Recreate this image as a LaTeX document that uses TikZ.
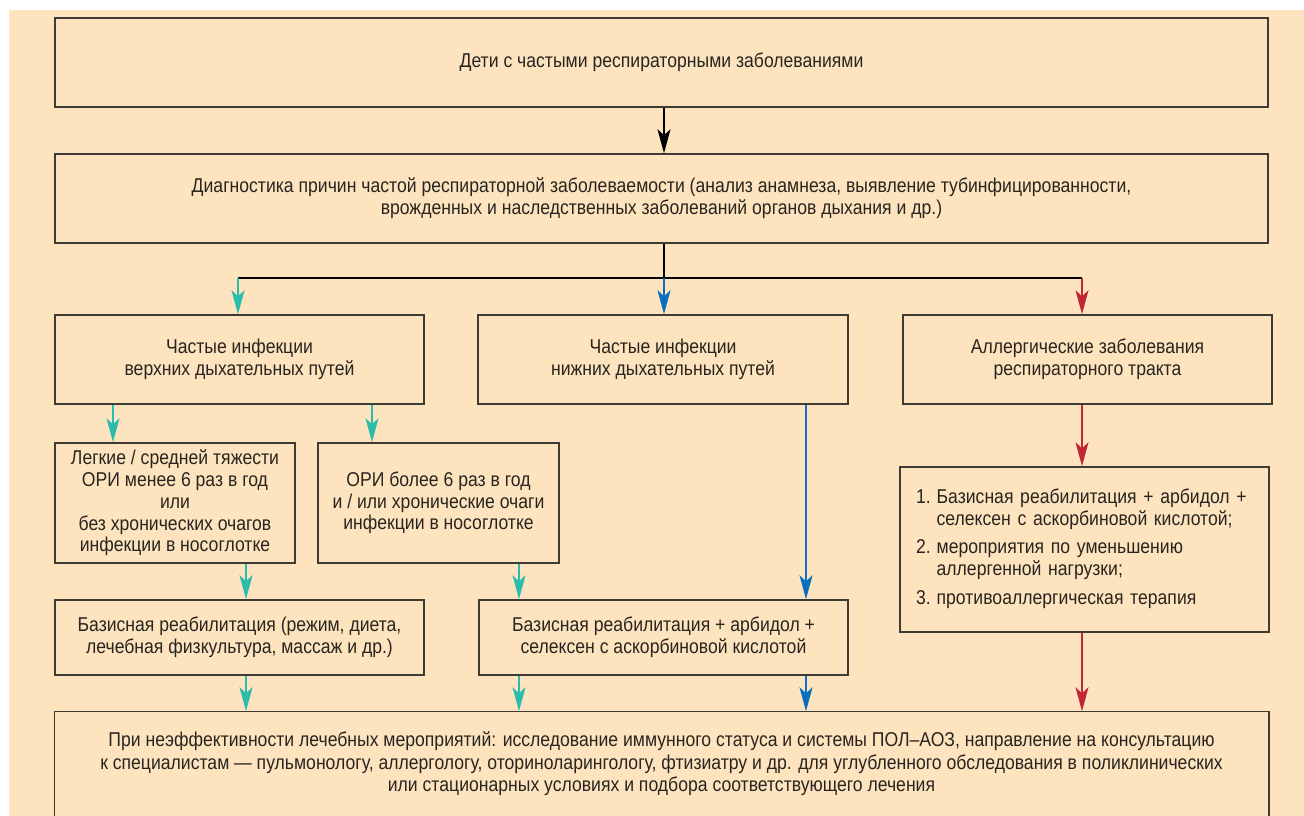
\documentclass[tikz,border=0pt]{standalone}
\usepackage{fontspec}
\setmainfont{Liberation Sans}[FakeStretch=0.88]
\usepackage{tikz}
\usetikzlibrary{arrows.meta,positioning}
\definecolor{peach}{RGB}{254,228,190}
\definecolor{boxline}{RGB}{62,58,52}
\definecolor{textcol}{RGB}{40,36,32}
\definecolor{tealarr}{RGB}{44,188,172}
\definecolor{bluearr}{RGB}{8,112,190}
\definecolor{redarr}{RGB}{192,40,56}

\begin{document}
\begin{tikzpicture}[x=1pt,y=-1pt,
  frame/.style={draw=boxline,line width=1.5pt,inner sep=0pt,text=textcol,
    font=\fontsize{20}{21.7}\selectfont},
  box/.style={frame,align=center},
  trunk/.style={line width=2.4pt,black}]
\tikzset{edge/.style = {line width=2pt,-{Stealth[length=24pt,width=13pt,inset=6pt]}}}
\useasboundingbox (0,0) rectangle (1304,816);
\fill[peach] (9,10) rectangle (1304,816);
%top row
\node[box,minimum width=1213pt,minimum height=89pt] (kids) at (661.5,62.5) {Дети с частыми респираторными заболеваниями};
\node[box,minimum width=1213pt,minimum height=89pt] (diag) at (661.5,198.5) {Диагностика причин частой респираторной заболеваемости (анализ анамнеза, выявление тубинфицированности,\\врожденных и наследственных заболеваний органов дыхания и др.)};
%three groups
\node[box,minimum width=369pt,minimum height=89pt] (upper) at (239.5,359.5) {Частые инфекции\\верхних дыхательных путей};
\node[box,minimum width=370pt,minimum height=89pt] (lower) at (663,359.5) {Частые инфекции\\нижних дыхательных путей};
\node[box,minimum width=369pt,minimum height=89pt] (allerg) at (1087.5,359.5) {Аллергические заболевания\\респираторного тракта};
%upper airways split
\node[box,minimum width=240pt,minimum height=120pt] (mild) at (175,503) {Легкие / средней тяжести\\ОРИ менее 6 раз в год\\или\\без хронических очагов\\инфекции в носоглотке};
\node[box,minimum width=241pt,minimum height=120pt] (often) at (438.5,503) {ОРИ более 6 раз в год\\и / или хронические очаги\\инфекции в носоглотке};
%therapy
\node[box,minimum width=369pt,minimum height=75pt] (basic) at (239.5,637.5) {Базисная реабилитация (режим, диета,\\лечебная физкультура, массаж и др.)};
\node[box,minimum width=369pt,minimum height=75pt] (arbidol) at (663.5,637.5) {Базисная реабилитация + арбидол +\\селексен с аскорбиновой кислотой};
\node[frame,text width=337pt,inner xsep=16pt,minimum height=165pt] (plan) at (1084.5,549.5) {%
  \noindent\begin{tabular}{@{}r@{\hspace{6pt}}l@{}}
  1.& Базисная реабилитация + арбидол +\\ & селексен с аскорбиновой кислотой;\\[7pt]
  2.& мероприятия по уменьшению\\ & аллергенной нагрузки;\\[7pt]
  3.& противоаллергическая терапия
  \end{tabular}};
%bottom box runs off the page
\node[box,draw=none,minimum width=1213pt,minimum height=104pt,font=\fontsize{20}{22.5}\selectfont] (final) at (661.5,764) {При неэффективности лечебных мероприятий: исследование иммунного статуса и системы ПОЛ–АОЗ, направление на консультацию\\к специалистам — пульмонологу, аллергологу, оториноларингологу, фтизиатру и др. для углубленного обследования в поликлинических\\или стационарных условиях и подбора соответствующего лечения};
\draw[boxline,line width=1.5pt] ([yshift=-5pt]final.south west) -- (final.north west) -- (final.north east) -- ([yshift=-5pt]final.south east);
%x positions of the arrows
\coordinate (hub) at (664,278);
\coordinate (xa) at (238,0); \coordinate (xb) at (1082,0);
\coordinate (x1) at (113,0); \coordinate (x2) at (372,0);
\coordinate (x3) at (246,0); \coordinate (x4) at (519,0);
\coordinate (x5) at (806,0);
%black arrows
\draw[edge,black] (kids.south -| hub) -- (diag.north -| hub);
\draw[trunk] (diag.south -| hub) -- (hub);
\draw[trunk] (hub -| xa) -- (hub -| xb);
\draw[edge,tealarr] (hub -| xa) -- (upper.north -| xa);
\draw[edge,bluearr] (hub) -- (lower.north -| hub);
\draw[edge,redarr] (hub -| xb) -- (allerg.north -| xb);
%teal branch
\draw[edge,tealarr] (upper.south -| x1) -- (mild.north -| x1);
\draw[edge,tealarr] (upper.south -| x2) -- (often.north -| x2);
\draw[edge,tealarr] (mild.south -| x3) -- (basic.north -| x3);
\draw[edge,tealarr] (often.south -| x4) -- (arbidol.north -| x4);
\draw[edge,tealarr] (basic.south -| x3) -- (final.north -| x3);
\draw[edge,tealarr] (arbidol.south -| x4) -- (final.north -| x4);
%blue branch
\draw[edge,bluearr] (lower.south -| x5) -- (arbidol.north -| x5);
\draw[edge,bluearr] (arbidol.south -| x5) -- (final.north -| x5);
%red branch
\draw[edge,redarr] (allerg.south -| xb) -- (plan.north -| xb);
\draw[edge,redarr] (plan.south -| xb) -- (final.north -| xb);
\end{tikzpicture}
\end{document}
